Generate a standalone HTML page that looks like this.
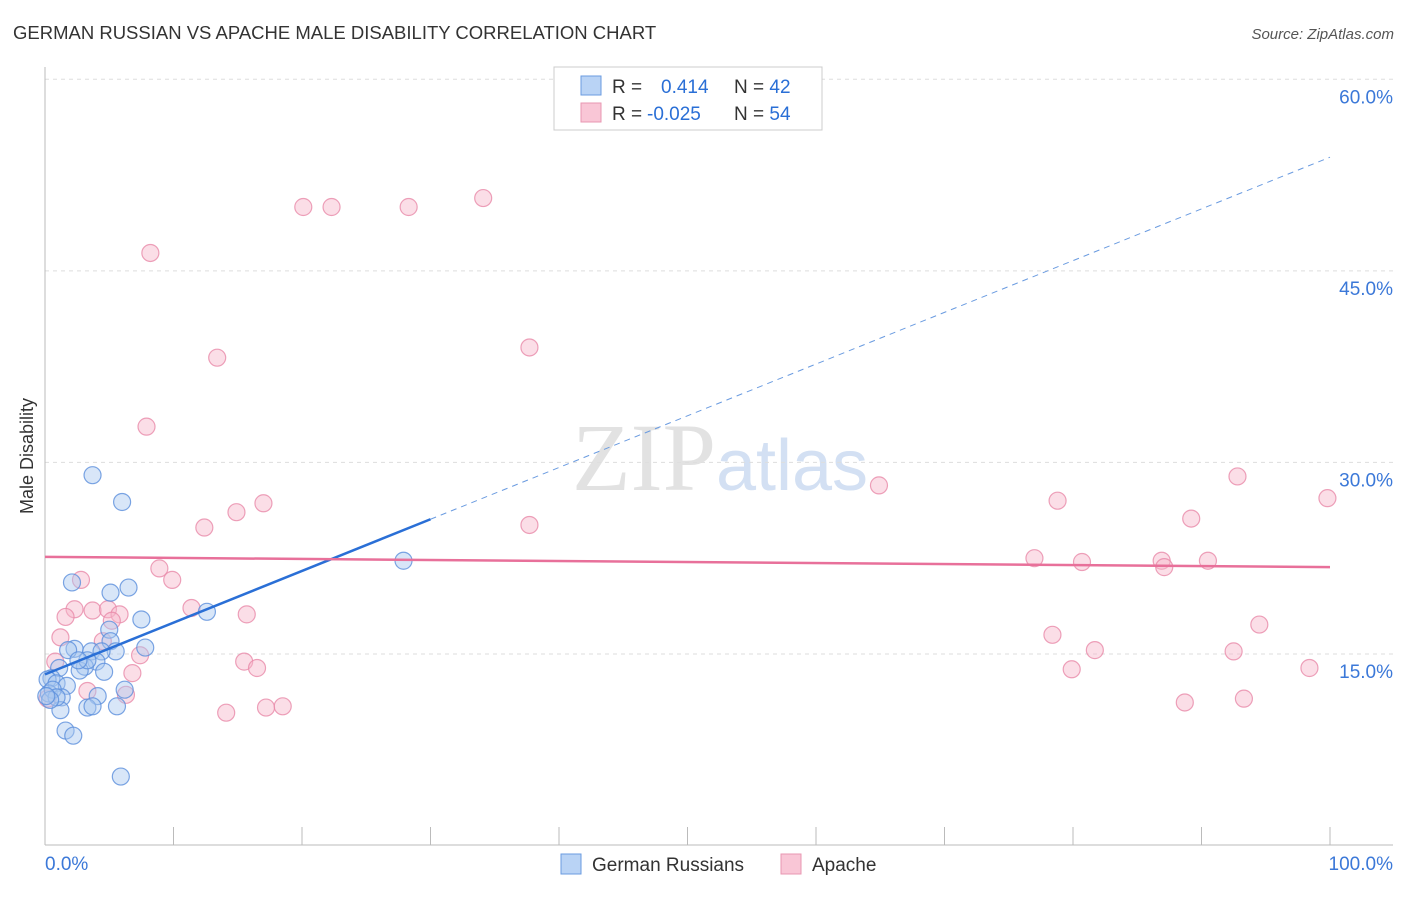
<!DOCTYPE html>
<html><head><meta charset="utf-8"><style>
body{margin:0;background:#fff;font-family:"Liberation Sans",sans-serif;}
</style></head><body>
<svg id="chart" width="1406" height="892" xmlns="http://www.w3.org/2000/svg" font-family="Liberation Sans, sans-serif">
<text x="13" y="39" font-size="18.5" fill="#333">GERMAN RUSSIAN VS APACHE MALE DISABILITY CORRELATION CHART</text>
<text x="1394" y="39" font-size="15" fill="#555" text-anchor="end" font-style="italic">Source: ZipAtlas.com</text>
<text x="720" y="490" font-size="96" text-anchor="middle" fill="#e2e2e2" font-family="Liberation Serif, serif">ZIP<tspan fill="#d3e0f3" font-family="Liberation Sans, sans-serif" font-size="72">atlas</tspan></text>
<text transform="translate(33,456) rotate(-90)" font-size="18" fill="#333" text-anchor="middle">Male Disability</text>
<g id="grid"></g><g id="axes"></g><g id="pts"></g><g id="lines"></g>
<g>
<rect x="554" y="67" width="268" height="63" fill="#fff" stroke="#ccc"/>
<rect x="581" y="76" width="20" height="19" fill="#b9d3f5" stroke="#6a9be0"/>
<rect x="581" y="103" width="20" height="19" fill="#f9c6d6" stroke="#e897b2"/>
<text x="612" y="93" font-size="19" fill="#333">R = <tspan fill="#2a6fd6" x="661">0.414</tspan><tspan x="734" fill="#333">N = </tspan><tspan fill="#2a6fd6">42</tspan></text>
<text x="612" y="120" font-size="19" fill="#333">R = <tspan fill="#2a6fd6" x="647">-0.025</tspan><tspan x="734" fill="#333">N = </tspan><tspan fill="#2a6fd6">54</tspan></text>
</g>
<g>
<rect x="561" y="854" width="20" height="20" fill="#b9d3f5" stroke="#6a9be0"/>
<text x="592" y="871" font-size="19" fill="#333">German Russians</text>
<rect x="781" y="854" width="20" height="20" fill="#f9c6d6" stroke="#e897b2"/>
<text x="812" y="871" font-size="19" fill="#333">Apache</text>
</g>
</svg>
<script>
const yTicks=[15,30,45,60];
const xTickLabels=["0.0%","100.0%"];
const blueX=[3.7,6.0,2.1,6.5,5.1,7.5,12.6,27.9,5.0,5.1,7.8,5.5,2.3,1.8,3.6,4.4,4.0,3.1,2.7,1.1,4.6,0.5,0.2,0.9,1.7,0.3,1.3,4.1,6.2,1.2,3.3,3.7,5.6,1.6,2.2,5.9,0.6,0.9,0.4,3.3,2.6,0.1];
const blueY=[29.0,26.9,20.6,20.2,19.8,17.7,18.3,22.3,16.9,16.0,15.5,15.2,15.4,15.3,15.2,15.2,14.4,14.0,13.7,13.9,13.6,13.1,13.0,12.7,12.5,11.9,11.6,11.7,12.2,10.6,10.8,10.9,10.9,9.0,8.6,5.4,12.2,11.6,11.4,14.5,14.5,11.7];
const pinkX=[8.2,20.1,22.3,28.3,34.1,13.4,37.7,7.9,14.9,17.0,12.4,37.7,64.9,78.8,92.8,99.8,89.2,77.0,80.7,86.9,87.1,90.5,2.8,8.9,9.9,2.3,3.7,4.9,5.8,1.6,11.4,15.7,5.2,1.2,4.5,7.4,78.4,81.7,94.5,92.5,0.8,15.5,16.5,6.8,79.9,98.4,3.3,6.3,0.2,14.1,17.2,18.5,88.7,93.3];
const pinkY=[46.4,50.0,50.0,50.0,50.7,38.2,39.0,32.8,26.1,26.8,24.9,25.1,28.2,27.0,28.9,27.2,25.6,22.5,22.2,22.3,21.8,22.3,20.8,21.7,20.8,18.5,18.4,18.5,18.1,17.9,18.6,18.1,17.6,16.3,16.0,14.9,16.5,15.3,17.3,15.2,14.4,14.4,13.9,13.5,13.8,13.9,12.1,11.8,11.5,10.4,10.8,10.9,11.2,11.5];
const blueFit=[13.4,0.405];
const pinkFit=[22.6,-0.008];
const NS="http://www.w3.org/2000/svg";
const X0=45,X1=1330,Y0=845.5,PY=12.77;
function sx(v){return X0+(X1-X0)*v/100;}
function sy(v){return Y0-v*PY;}
function mk(t,a,p){const e=document.createElementNS(NS,t);for(const k in a)e.setAttribute(k,a[k]);p.appendChild(e);return e;}
const grid=document.getElementById('grid'),axes=document.getElementById('axes'),pts=document.getElementById('pts'),lines=document.getElementById('lines');
yTicks.forEach(v=>{
 const l=mk('line',{x1:45,x2:1393,y1:sy(v),y2:sy(v),stroke:'#ddd','stroke-dasharray':'4,4'},grid);
 
 
 const t=mk('text',{x:1393,y:sy(v)+24,'font-size':19,fill:'#3b78d8','text-anchor':'end'},grid);
 t.textContent=v.toFixed(1)+'%';
 
 
});
const ya=mk('line',{x1:45,x2:45,y1:67,y2:845,stroke:'#bbb'},axes);


const xa=mk('line',{x1:45,x2:1393,y1:845,y2:845,stroke:'#bbb'},axes);


for(let i=1;i<=10;i++){
 const tk=mk('line',{x1:sx(i*10),x2:sx(i*10),y1:827,y2:845,stroke:'#bbb'},axes);
 
 
}
const xl0=mk('text',{x:45,y:870,'font-size':19,fill:'#3b78d8'},axes);xl0.textContent=xTickLabels[0];


const xl1=mk('text',{x:1393,y:870,'font-size':19,fill:'#3b78d8','text-anchor':'end'},axes);xl1.textContent=xTickLabels[1];


function dots(xs,ys,fill,stroke,name){
 xs.forEach((x,i)=>{
  const c=mk('circle',{cx:sx(x),cy:sy(ys[i]),r:8.5,fill:fill,'fill-opacity':0.45,stroke:stroke,'stroke-opacity':0.8,'stroke-width':1.2},pts);
  
  
 });
}
dots(pinkX,pinkY,'#f6b5ca','#e98aa9','apache-point');
dots(blueX,blueY,'#a9c8f0','#5b8fdc','german-russian-point');
const bs=mk('line',{x1:sx(0),y1:sy(blueFit[0]),x2:sx(30),y2:sy(blueFit[0]+30*blueFit[1]),stroke:'#2a6fd6','stroke-width':2.5},lines);


const bd=mk('line',{x1:sx(30),y1:sy(blueFit[0]+30*blueFit[1]),x2:sx(100),y2:sy(blueFit[0]+100*blueFit[1]),stroke:'#6a9be0','stroke-width':1,'stroke-dasharray':'6,5'},lines);


const pl=mk('line',{x1:sx(0),y1:sy(pinkFit[0]),x2:sx(100),y2:sy(pinkFit[0]+100*pinkFit[1]),stroke:'#e8709a','stroke-width':2.5},lines);


</script>
</body></html>
